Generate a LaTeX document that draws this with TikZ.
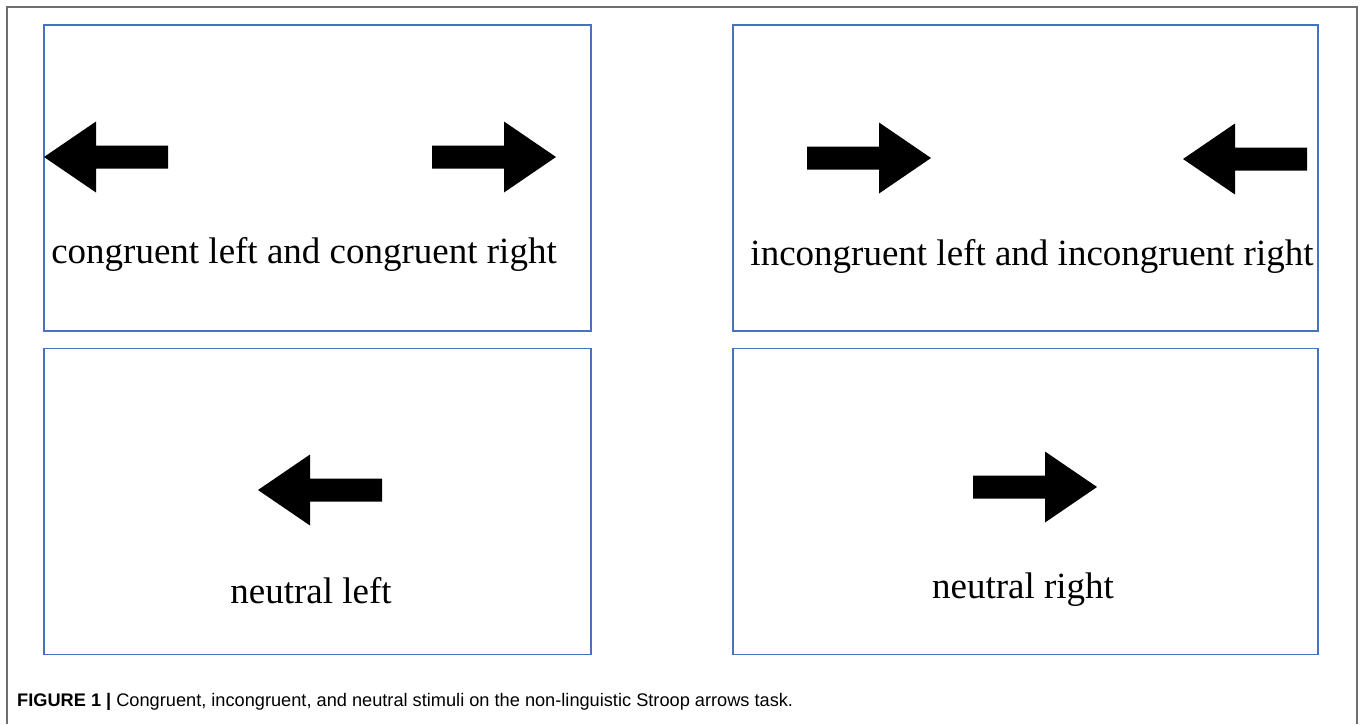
\documentclass[tikz,border=0pt]{standalone}
\usepackage{fontspec}
\setmainfont{Liberation Serif}
\newfontfamily\capfont{Liberation Sans}
\usepackage{tikz}
\usetikzlibrary{positioning}

\definecolor{panelblue}{RGB}{72,114,190}
\definecolor{framegray}{RGB}{110,110,110}

\tikzset{
  panel/.style={draw=panelblue, line width=1.4pt, minimum width=547pt, minimum height=306pt, inner sep=0pt},
  stimtext/.style={anchor=base, font=\fontsize{37}{40}\selectfont, inner sep=0pt},
}

\begin{document}
\begin{tikzpicture}[x=1pt, y=-1pt]
    \useasboundingbox (0,0) rectangle (1360,724);

    % Draw outer frame
    \draw[framegray, line width=1.4pt] (7,724) -- (7,7) -- (1357,7) -- (1357,724);

    % Draw panels
    \node[panel] (congbox) at (317.5,178) {};
    \node[panel, minimum width=585pt] (incongbox) at (1025.5,178) {};
    \node[panel] (leftbox) at (317.5,501.5) {};
    \node[panel, minimum width=585pt] (rightbox) at (1025.5,501.5) {};

    % Labels
    \node[stimtext] (conglabel) at (304,263) {congruent left and congruent right};
    \node[stimtext] (inconglabel) at (1032,265) {incongruent left and incongruent right};
    \node[stimtext] (leftlabel) at (311,603) {neutral left};
    \node[stimtext] (rightlabel) at (1023,598) {neutral right};

    % Arrows: tail x / y / direction
    \foreach \tx/\ty/\d in {168/157/-1, 432/157/1, 807/158/1, 1307/159/-1, 382/490/-1, 973/487/1} {
      \fill[black, shift={(\tx,\ty)}, xscale=\d]
        (0,-11.5) -- (72,-11.5) -- (72,-35.5) -- (124,0) -- (72,35.5) -- (72,11.5) -- (0,11.5) -- cycle;
    }

    % Caption
    \node[anchor=base west, inner sep=0pt, font=\capfont\fontsize{18.2}{21}\selectfont] (caption) at (17,706)
      {\textbf{FIGURE 1 |} Congruent, incongruent, and neutral stimuli on the non-linguistic Stroop arrows task.};
\end{tikzpicture}
\end{document}
